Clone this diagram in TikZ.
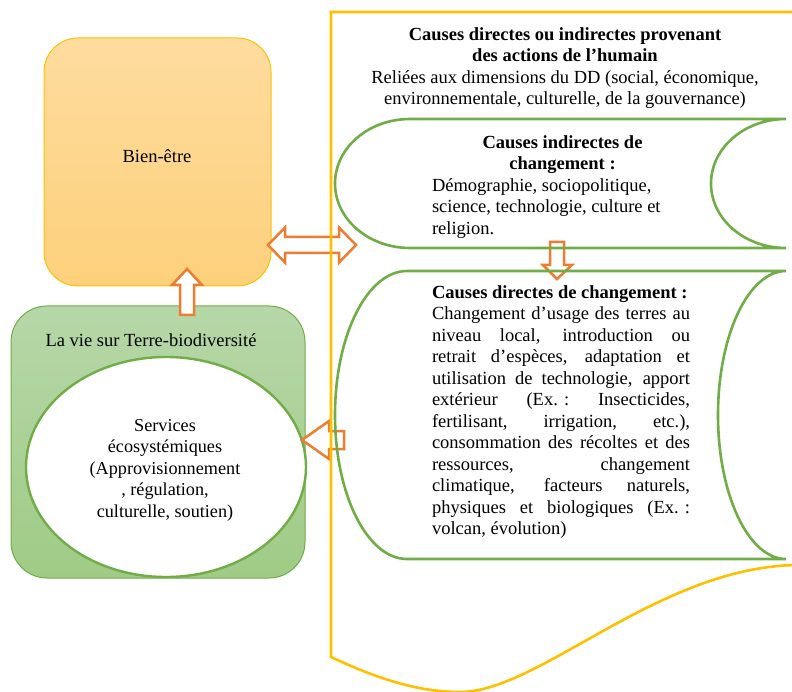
\documentclass[tikz,border=0pt]{standalone}
\usepackage{fontspec}
\setmainfont{Liberation Serif}
\definecolor{frameyellow}{HTML}{FFC000}
\definecolor{leafgreen}{HTML}{70AD47}
\definecolor{arroworange}{HTML}{ED7D31}
\definecolor{wellA}{HTML}{FEDC9F}
\definecolor{wellB}{HTML}{FDD07B}
\definecolor{lifeA}{HTML}{B6D7A8}
\definecolor{lifeB}{HTML}{A0CB86}
% one justified line of fixed width
\newcommand\jline[1]{\makebox[258pt][s]{#1}}
\begin{document}
\begin{tikzpicture}[x=1pt,y=1pt,
  txt/.style={inner sep=0pt, outer sep=0pt, font=\fontsize{18.5}{21.5}\selectfont},
  smalltxt/.style={inner sep=0pt, outer sep=0pt, font=\fontsize{18.2}{21.5}\selectfont},
  blockarrow/.style={draw=arroworange, line width=2.5pt, fill=white, line join=miter},
  storedshape/.style={draw=leafgreen, line width=2.6pt},
  outerframe/.style={draw=frameyellow, line width=2.6pt, line join=miter}]
\useasboundingbox (0,0) rectangle (792,-692);

% well-being box
\draw[draw=frameyellow, line width=1pt, top color=wellA, bottom color=wellB, rounded corners=34pt]
  (44,-38) rectangle (271,-286);
\node[txt, anchor=base] (well) at (157,-163) {Bien-être};

% life on Earth box with ecosystem services
\draw[draw=leafgreen, line width=1pt, top color=lifeA, bottom color=lifeB, rounded corners=36pt]
  (11,-306) rectangle (305,-578);
\node[txt, anchor=base] (life) at (151,-347) {La vie sur Terre-biodiversité};
\draw[draw=leafgreen, line width=2.4pt, fill=white] (166,-467) ellipse [x radius=140, y radius=110];
\node[smalltxt, anchor=north, align=center] (services) at (165,-416)
  {\strut Services\\écosystémiques\\(Approvisionnement\\, régulation,\\culturelle, soutien)};

% block arrows
\draw[blockarrow] (180,-315) -- (180,-285) -- (172,-285) -- (187,-269) -- (202,-285)
  -- (194,-285) -- (194,-315) -- cycle;
\draw[blockarrow] (268,-245) -- (285,-227.5) -- (285,-237) -- (339,-237) -- (339,-227.5)
  -- (356,-245) -- (339,-262.5) -- (339,-253) -- (285,-253) -- (285,-262.5) -- cycle;
\draw[blockarrow] (550,-242) -- (564,-242) -- (564,-265) -- (572,-265) -- (557,-279)
  -- (543,-265) -- (550,-265) -- cycle;
\draw[blockarrow] (302,-440) -- (329,-421) -- (329,-431) -- (344,-431) -- (344,-449)
  -- (329,-449) -- (329,-459) -- cycle;

% indirect causes
\draw[storedshape] (786,-119) -- (410,-119)
  arc[start angle=90, end angle=270, x radius=75, y radius=64.5]
  -- (786,-248) arc[start angle=270, end angle=90, x radius=75, y radius=64.5] -- cycle;
% direct causes
\draw[storedshape] (786,-271) -- (407,-271)
  arc[start angle=90, end angle=270, x radius=72, y radius=144]
  -- (786,-559) arc[start angle=270, end angle=90, x radius=68, y radius=144] -- cycle;

% outer frame with wavy bottom
\draw[outerframe] (800,-12) -- (331,-12) -- (331,-657)
  .. controls (380,-680) and (420,-692) .. (460,-692)
  .. controls (540,-692) and (660,-565) .. (800,-565);

% texts
\node[txt, anchor=north, align=center] (head) at (565,-25)
  {\strut\textbf{Causes directes ou indirectes provenant}\\
   \textbf{des actions de l’humain}\\
   Reliées aux dimensions du DD (social, économique,\\
   environnementale, culturelle, de la gouvernance)};
\node[txt, anchor=north, align=center] (indhead) at (562.5,-133)
  {\strut\textbf{Causes indirectes de}\\\textbf{changement :}};
\node[txt, anchor=north west, align=left] (indbody) at (432,-176)
  {\strut Démographie, sociopolitique,\\science, technologie, culture et\\religion.};
\node[txt, anchor=north west, align=left] (dirbody) at (432,-283)
  {\strut\textbf{Causes directes de changement :}\\
   \jline{Changement d’usage des terres au}\\
   \jline{niveau local, introduction ou}\\
   \jline{retrait d’espèces, adaptation et}\\
   \jline{utilisation de technologie, apport}\\
   \jline{extérieur \mbox{(Ex. :} Insecticides,}\\
   \jline{fertilisant, irrigation, etc.),}\\
   \jline{consommation des récoltes et des}\\
   \jline{ressources, changement}\\
   \jline{climatique, facteurs naturels,}\\
   \jline{physiques et biologiques \mbox{(Ex. :}}\\
   volcan, évolution)};
\end{tikzpicture}
\end{document}
